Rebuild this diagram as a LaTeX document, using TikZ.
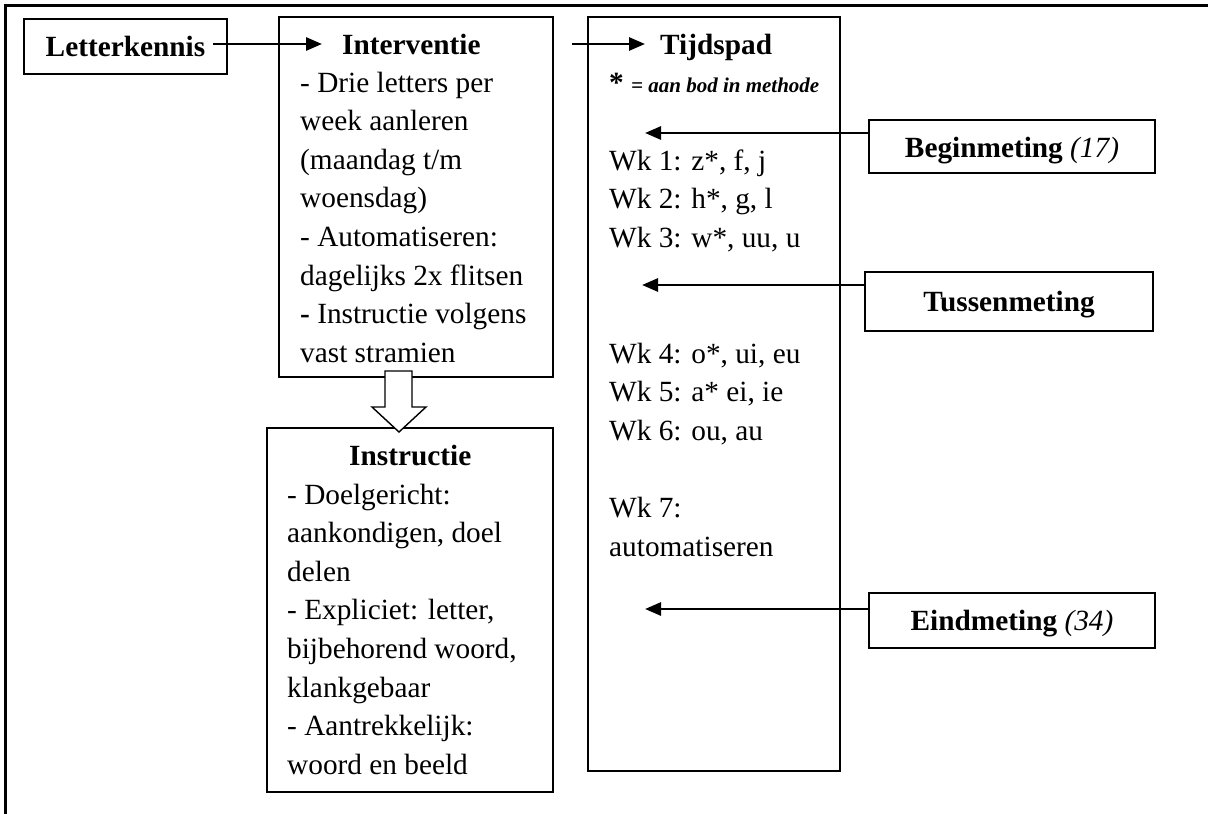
\documentclass[tikz,border=0pt]{standalone}
\usepackage{fontspec}
\setmainfont{Liberation Serif}
\usetikzlibrary{arrows.meta,calc}
\newcommand\bodyfnt{\fontsize{29.3}{38.6}\selectfont}
\newcommand\smallbi{\fontsize{21}{25}\selectfont\bfseries\itshape}
\tikzset{
  box/.style={draw, line width=1.4pt, inner sep=0pt, outer sep=0pt},
  txt/.style={anchor=base west, inner sep=0pt, font=\bodyfnt},
  ttl/.style={anchor=base west, inner sep=0pt, font=\bodyfnt\bfseries},
  ctr/.style={anchor=base, inner sep=0pt, font=\bodyfnt},
  arr/.style={line width=2.8pt, -{Triangle[length=16pt,width=13pt]}},
  hollow/.style={draw, line width=1.4pt, fill=white, line join=miter},
}
\begin{document}
\begin{tikzpicture}[x=1pt,y=-1pt]
\useasboundingbox (0,0) rectangle (1208,814);
% outer frame (top and left edges only)
\draw[line width=2.6pt, line join=miter] (1208,5.5) -- (5.5,5.5) -- (5.5,814);

% boxes
\node[box, minimum width=203pt, minimum height=55pt]  (lk)  at (125.5,46.5) {};
\node[box, minimum width=274pt, minimum height=360pt] (iv)  at (416,197) {};
\node[box, minimum width=252pt, minimum height=754pt] (tp)  at (714,394) {};
\node[box, minimum width=286pt, minimum height=364pt] (ins) at (410,610) {};
\node[box, minimum width=286pt, minimum height=53pt]  (bm)  at (1012,146.5) {};
\node[box, minimum width=288pt, minimum height=59pt]  (tm)  at (1009,301.5) {};
\node[box, minimum width=286pt, minimum height=55pt]  (em)  at (1012,620.5) {};

% titles
\node[ctr, font=\bodyfnt\bfseries] (lkt) at (125.5,56) {Letterkennis};
\node[ttl] (ivt) at (342,54) {Interventie};
\node[ttl] (tpt) at (660,54) {Tijdspad};
\node[ttl] (inst) at (349,465) {Instructie};
\node[ctr] (bmt) at (1012,157) {\textbf{Beginmeting} \textit{(17)}};
\node[ctr] (tmt) at (1009,311) {\textbf{Tussenmeting}};
\node[ctr] (emt) at (1012,630) {\textbf{Eindmeting} \textit{(34)}};

% Interventie lines
\foreach \t [count=\k from 0] in {{- Drie letters per}, {week aanleren}, {(maandag t/m}, {woensdag)}, {- Automatiseren:}, {dagelijks 2x flitsen}, {\textbf{-} Instructie volgens}, {vast stramien}}
  \node[txt] (iv\k) at (300,92+38.6*\k) {\t};

% Instructie lines
\foreach \t [count=\k from 0] in {{- Doelgericht:}, {aankondigen, doel}, {delen}, {- Expliciet: letter,}, {bijbehorend woord,}, {klankgebaar}, {- Aantrekkelijk:}, {woord en beeld}}
  \node[txt] (in\k) at (287,504+38.6*\k) {\t};

% Tijdspad lines
\node[txt] (tpl) at (609,92) {\textbf{*} {\smallbi = aan bod in methode}};
\node[txt] (w1) at (609,170) {Wk 1: z*, f, j};
\node[txt] (w2) at (609,208.6) {Wk 2: h*, g, l};
\node[txt] (w3) at (609,247.2) {Wk 3: w*, uu, u};
\node[txt] (w4) at (609,363) {Wk 4: o*, ui, eu};
\node[txt] (w5) at (609,401.6) {Wk 5: a* ei, ie};
\node[txt] (w6) at (609,440.2) {Wk 6: ou, au};
\node[txt] (w7) at (609,517.4) {Wk 7:};
\node[txt] (w7b) at (609,556) {automatiseren};

% arrows
\coordinate (a1s) at (213,44);
\coordinate (a1e) at (322,44);
\coordinate (a2s) at (572,44);
\coordinate (a2e) at (645,44);
\coordinate (t1) at (645,133);
\coordinate (t2) at (642,285);
\coordinate (t3) at (645,609);
\draw[arr] (a1s) -- (a1e);
\draw[arr] (a2s) -- (a2e);
\draw[arr] (bm.west |- t1) -- (t1);
\draw[arr] (tm.west |- t2) -- (t2);
\draw[arr] (em.west |- t3) -- (t3);

% hollow block arrow from Interventie to Instructie
\draw[hollow] (385,371) -- (412,371) -- (412,407) -- (426,407) -- (399,432)
  -- (372,407) -- (385,407) -- cycle;
\end{tikzpicture}
\end{document}
